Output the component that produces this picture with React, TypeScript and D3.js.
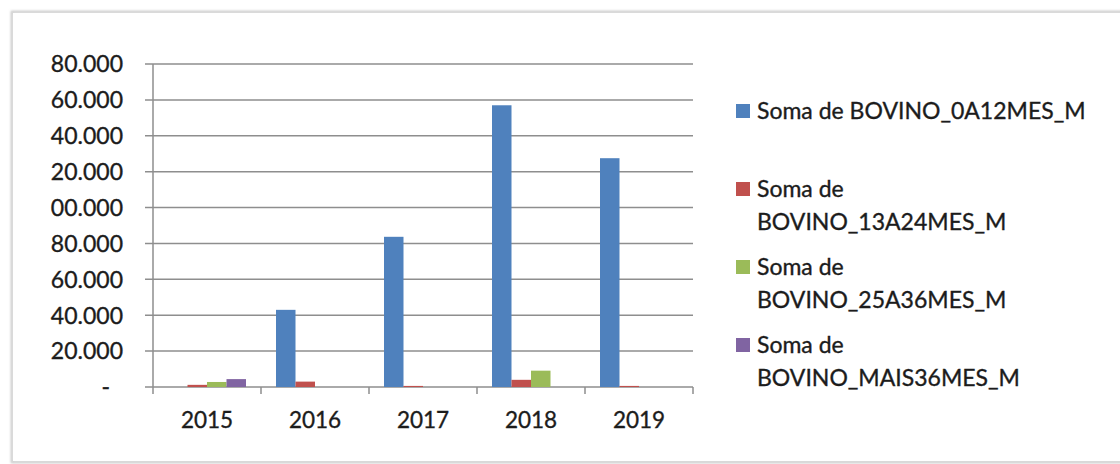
import React from "react";
import * as d3 from "d3";

const years = ["2015", "2016", "2017", "2018", "2019"];
const seriesNames = [
  "Soma de BOVINO_0A12MES_M",
  "Soma de BOVINO_13A24MES_M",
  "Soma de BOVINO_25A36MES_M",
  "Soma de BOVINO_MAIS36MES_M",
];
const s0A12 = [0, 43000, 83700, 157000, 127500];
const s13A24 = [1200, 3000, 600, 4000, 600];
const s25A36 = [2800, 0, 0, 9100, 0];
const sMais36 = [4400, 0, 0, 0, 0];
const seriesValues = [s0A12, s13A24, s25A36, sMais36];
const colors = ["#4F81BD", "#C0504D", "#9BBB59", "#8064A2"];
const yTickValues = [0, 20000, 40000, 60000, 80000, 100000, 120000, 140000, 160000, 180000];
const yTickLabels = ["-", "20.000", "40.000", "60.000", "80.000", "00.000", "20.000", "40.000", "60.000", "80.000"];

const FONT = "Lato, 'Open Sans', sans-serif";
const TXT = "#1c1c1c";

export default function App() {
  const W = 1120;
  const H = 464;
  const y = d3.scaleLinear().domain([0, 180000]).range([387, 64]);
  const x = d3.scaleBand<string>().domain(years).range([153, 693]).paddingInner(0).paddingOuter(0);
  const inner = d3
    .scaleBand<number>()
    .domain(d3.range(seriesNames.length))
    .range([15, x.bandwidth() - 15]);

  const legendItems = [
    { lines: ["Soma de BOVINO_0A12MES_M"], top: 119 },
    { lines: ["Soma de", "BOVINO_13A24MES_M"], top: 197 },
    { lines: ["Soma de", "BOVINO_25A36MES_M"], top: 275 },
    { lines: ["Soma de", "BOVINO_MAIS36MES_M"], top: 353 },
  ];

  const gridColor = "#8e8e8e";
  const textStyle = { stroke: TXT, strokeWidth: 0.35 } as React.CSSProperties;

  return (
    <div style={{ position: "absolute", left: 0, top: 0, width: W, height: H, background: "#fff" }}>
      <svg width={W} height={H} style={{ display: "block" }}>
        <defs>
          <filter id="sh" x="-5%" y="-5%" width="110%" height="110%">
            <feGaussianBlur stdDeviation="1.2" />
          </filter>
        </defs>
        <rect x={0} y={0} width={W} height={H} fill="#fff" />
        {/* frame shadow */}
        <rect x={12} y={12} width={W + 20} height={450} fill="none" stroke="#c8c8c8" strokeWidth={2.5} filter="url(#sh)" />
        <rect x={12} y={12} width={W + 20} height={450} fill="none" stroke="#d9d9d9" strokeWidth={1} />
        <rect x={13} y={13} width={W} height={448} fill="#fff" />

        {/* gridlines */}
        {yTickValues.map((v) => (
          <line key={"g" + v} x1={145} x2={693} y1={y(v)} y2={y(v)} stroke={gridColor} strokeWidth={1.5} />
        ))}
        {/* y axis */}
        <line x1={153} x2={153} y1={y(180000)} y2={394} stroke={gridColor} strokeWidth={1.5} />
        {/* x ticks */}
        {years.map((yr) => (
          <line key={"t" + yr} x1={(x(yr) as number) + x.bandwidth()} x2={(x(yr) as number) + x.bandwidth()} y1={387} y2={394} stroke={gridColor} strokeWidth={1.5} />
        ))}
        {/* y labels */}
        {yTickValues.map((v, i) => (
          <text
            key={"yl" + v}
            x={yTickLabels[i] === "-" ? 110 : 123}
            y={y(v)}
            dy="0.36em"
            textAnchor="end"
            fontFamily={FONT}
            fontSize={23}
            fill={TXT}
            style={textStyle}
          >
            {yTickLabels[i]}
          </text>
        ))}
        {/* x labels */}
        {years.map((yr) => (
          <text
            key={"xl" + yr}
            x={(x(yr) as number) + x.bandwidth() / 2}
            y={428}
            textAnchor="middle"
            fontFamily={FONT}
            fontSize={22.5}
            fill={TXT}
            style={textStyle}
          >
            {yr}
          </text>
        ))}
        {/* bars */}
        {seriesValues.map((vals, si) =>
          vals.map((v, yi) =>
            v > 0 ? (
              <rect
                key={"b" + si + "-" + yi}
                x={(x(years[yi]) as number) + (inner(si) as number)}
                y={y(v)}
                width={inner.bandwidth()}
                height={y(0) - y(v)}
                fill={colors[si]}
              />
            ) : null
          )
        )}
        {/* legend */}
        {legendItems.map((it, i) => (
          <g key={"lg" + i}>
            <rect x={736} y={it.top - 15} width={14} height={14} fill={colors[i]} />
            {it.lines.map((ln, li) => (
              <text key={li} x={757} y={it.top + li * 33} fontFamily={FONT} fontSize={23} fill={TXT} style={textStyle}>
                {ln}
              </text>
            ))}
          </g>
        ))}
      </svg>
    </div>
  );
}
